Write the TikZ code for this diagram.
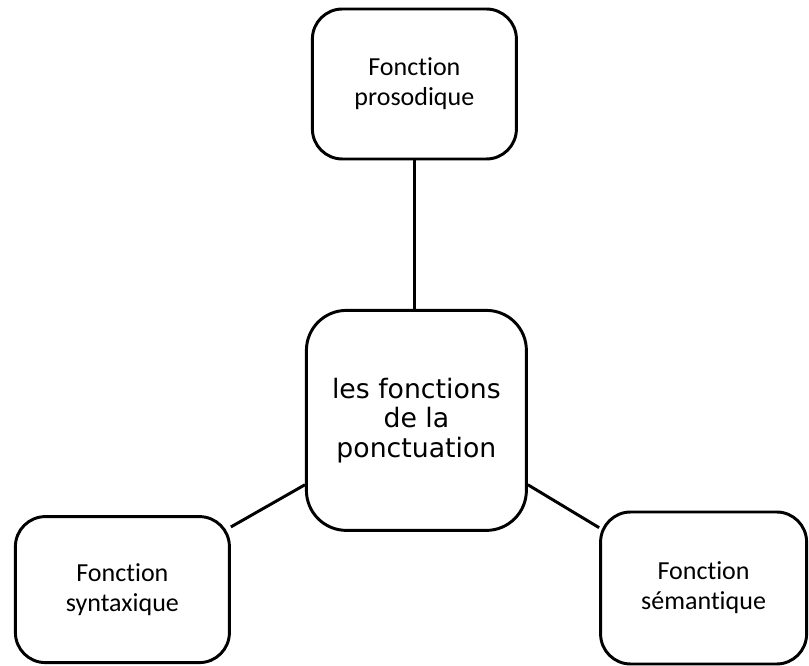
\documentclass[tikz,border=0pt]{standalone}
\usepackage{fontspec}
\setmainfont[Ligatures=NoCommon]{Carlito}
\newfontfamily\verdanafont{DejaVu Sans}
\begin{document}
\begin{tikzpicture}[line width=2.1pt,
    fbox/.style={rectangle,draw,rounded corners=0.75cm,align=center,
      font=\fontsize{18.5}{21.5}\selectfont},
    mainbox/.style={rectangle,draw,rounded corners=1cm,align=center,
      minimum width=5.5cm,minimum height=5.5cm,
      font=\verdanafont\fontsize{19}{20.8}\selectfont}]
    \useasboundingbox (0,0) rectangle (20.225,16.65);
    % boxes
    \node[mainbox] (C) at (10.41,6.14) {les fonctions\\de la\\ponctuation};
    \node[fbox,minimum width=5.1cm,minimum height=3.75cm] (P) at (10.36,14.55) {Fonction\\prosodique};
    \node[fbox,minimum width=5.35cm,minimum height=3.65cm] (S) at (3.06,1.91) {Fonction\\syntaxique};
    \node[fbox,minimum width=5.15cm,minimum height=3.8cm] (M) at (17.59,1.95) {Fonction\\sémantique};
    % lines
    \draw (P.south) -- (P.south |- C.north);
    \draw (S.30) -- (C.210);
    \draw (C.330) -- (M.150);
  \end{tikzpicture}
\end{document}
